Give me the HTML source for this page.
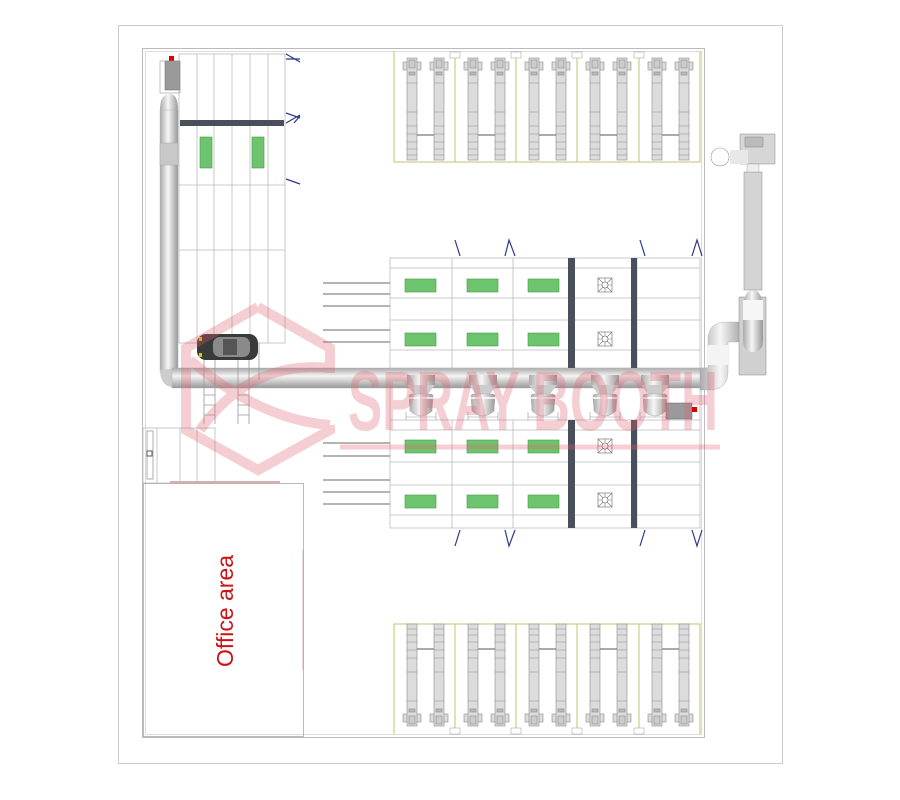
<!DOCTYPE html>
<html><head><meta charset="utf-8"><style>
html,body{margin:0;padding:0;background:#fff;}
svg{display:block;}
</style></head><body>
<svg width="900" height="800" viewBox="0 0 900 800" xmlns="http://www.w3.org/2000/svg">
<defs>
<linearGradient id="pipeH" x1="0" y1="0" x2="0" y2="1">
<stop offset="0" stop-color="#aaa"/><stop offset="0.4" stop-color="#f4f4f4"/><stop offset="1" stop-color="#999"/></linearGradient>
<linearGradient id="pipeV" x1="0" y1="0" x2="1" y2="0">
<stop offset="0" stop-color="#aaa"/><stop offset="0.45" stop-color="#f6f6f6"/><stop offset="1" stop-color="#999"/></linearGradient>
<g id="lift">
 <g fill="#dcdcdc" stroke="#8a8a8a" stroke-width="0.6">
  <rect x="9" y="12" width="18" height="8"/>
  <rect x="13" y="8" width="10" height="102"/>
  <rect x="15" y="10" width="6" height="8" fill="#ccc"/>
  <rect x="15" y="22" width="6" height="3" fill="#bbb"/>
  <rect x="36" y="12" width="18" height="8"/>
  <rect x="40" y="8" width="10" height="102"/>
  <rect x="42" y="10" width="6" height="8" fill="#ccc"/>
  <rect x="42" y="22" width="6" height="3" fill="#bbb"/>
  <path d="M13 33H23M13 62H23M13 76H23M13 84H23M13 92H23M13 99H23M13 105H23M40 33H50M40 62H50M40 76H50M40 84H50M40 92H50M40 99H50M40 105H50" fill="none"/>
  <path d="M23 85H40" stroke="#777" stroke-width="1.2"/>
 </g>
</g>
<g id="fan"><rect x="-7" y="-7" width="14" height="14" fill="#fff" stroke="#666" stroke-width="0.6"/><path d="M-7 -7L7 7M7 -7L-7 7M0 -7V7M-7 0H7" stroke="#777" stroke-width="0.6"/><circle r="3" fill="#fff" stroke="#666" stroke-width="0.6"/></g>
<g id="cyc">
 <rect x="-14" y="0" width="28" height="10" fill="url(#pipeV)"/>
 <path d="M-14 10 L-7 19 L7 19 L14 10Z" fill="#ccc"/>
 <path d="M-12 21 Q-12 19 -9 19 H9 Q12 19 12 21 L11 36 Q0 46 -11 36Z" fill="url(#pipeV)" stroke="#aaa" stroke-width="0.5"/>
 <path d="M-12 23H12" stroke="#fff" stroke-width="1.5"/>
 <path d="M-15 42H15M-15 37V45M15 37V45" stroke="#999" stroke-width="0.6" fill="none"/>
</g>
</defs>

<rect x="118.5" y="25.5" width="664" height="738" fill="#fff" stroke="#ccc"/>
<rect x="142.5" y="48.5" width="562" height="689" fill="none" stroke="#bbb"/>
<rect x="145.5" y="51.5" width="556" height="683" fill="none" stroke="#ddd"/>

<g stroke="#bbb" stroke-width="0.8" fill="none">
<rect x="179" y="54" width="106" height="289" fill="#fff"/>
<path d="M197 54V343M214 54V343M232 54V343M250 54V343M268 54V343M179 185H285M179 250H285"/>
</g>
<rect x="180" y="120" width="104" height="6" fill="#4a4f5c"/>
<rect x="200" y="137" width="12" height="31" fill="#6cc46c" stroke="#4a9a4a" stroke-width="0.6"/>
<rect x="252" y="137" width="12" height="31" fill="#6cc46c" stroke="#4a9a4a" stroke-width="0.6"/>
<g stroke="#2b3a8c" stroke-width="1.2" fill="none">
<path d="M286 54L300 62M286 59L300 59"/>
<path d="M286 113L300 118M286 123L300 115M294 123L300 116"/>
<path d="M286 179L300 184"/>
</g>

<rect x="165" y="61" width="15" height="29" fill="#9a9a9a" stroke="#666" stroke-width="0.5"/>
<rect x="169" y="56" width="5" height="5" fill="#d00"/>
<rect x="160" y="61" width="20" height="32" fill="none" stroke="#999" stroke-width="0.6"/>
<path d="M160 110 Q160 94 170 94 Q178 94 178 110Z" fill="url(#pipeV)"/>
<rect x="160" y="110" width="18" height="262" fill="url(#pipeV)" stroke="#aaa" stroke-width="0.4"/>
<rect x="160" y="143" width="18" height="22" fill="#c8c8c8" stroke="#999" stroke-width="0.4"/>
<path d="M160 370 Q160 388 178 388 L178 368 Z" fill="#ccc"/>
<rect x="172" y="368" width="548" height="20" fill="url(#pipeH)" stroke="#aaa" stroke-width="0.4"/>

<g stroke="#999" stroke-width="0.8" fill="none">
<path d="M204 343V424M215 343V424M238 343V424M249 343V424M259 343V380"/>
<path d="M204 395H215M204 405H215M204 415H215M238 395H249M238 405H249M238 415H249"/>
</g>
<rect x="197" y="334" width="61" height="26" rx="9" fill="#3a3a3a"/>
<rect x="213" y="337" width="37" height="20" rx="7" fill="#8a8a8a"/>
<rect x="223" y="339" width="14" height="16" fill="#555"/>
<rect x="199" y="337" width="3" height="4" fill="#e6c200"/><rect x="199" y="353" width="3" height="4" fill="#e6c200"/>

<g stroke="#c6c26a" stroke-width="1" fill="none">
<path d="M394 51V162H700V51M455 51V162M516 51V162M577 51V162M639 51V162"/>
</g>
<g stroke="#999" stroke-width="0.5" fill="#fff">
<rect x="450" y="52" width="10" height="6"/><rect x="511" y="52" width="10" height="6"/><rect x="572" y="52" width="10" height="6"/><rect x="634" y="52" width="10" height="6"/>
</g>
<use href="#lift" x="394" y="50"/><use href="#lift" x="455" y="50"/><use href="#lift" x="516" y="50"/><use href="#lift" x="577" y="50"/><use href="#lift" x="639" y="50"/>

<g stroke="#c6c26a" stroke-width="1" fill="none">
<path d="M394 734V624H700V734M455 624V734M516 624V734M577 624V734M639 624V734"/>
</g>
<g stroke="#999" stroke-width="0.5" fill="#fff">
<rect x="450" y="728" width="10" height="6"/><rect x="511" y="728" width="10" height="6"/><rect x="572" y="728" width="10" height="6"/><rect x="634" y="728" width="10" height="6"/>
</g>
<g transform="translate(0,784) scale(1,-1)">
<use href="#lift" x="394" y="50"/><use href="#lift" x="455" y="50"/><use href="#lift" x="516" y="50"/><use href="#lift" x="577" y="50"/><use href="#lift" x="639" y="50"/>
</g>

<g stroke="#bbb" stroke-width="0.8" fill="none">
<rect x="390" y="258" width="310" height="110" fill="#fff"/>
<rect x="390" y="420" width="310" height="108" fill="#fff"/>
<path d="M452 258V368M513 258V368M574 258V368M637 258V368M452 420V528M513 420V528M574 420V528M637 420V528"/>
<path d="M390 268H700M390 298H700M390 320H700M390 350H700M390 430H700M390 462H700M390 485H700M390 515H700"/>
<path d="M390 388V420M700 388V420"/>
</g>
<rect x="568" y="258" width="7" height="110" fill="#4a4f5c"/><rect x="631" y="258" width="6" height="110" fill="#4a4f5c"/>
<rect x="568" y="420" width="7" height="108" fill="#4a4f5c"/><rect x="631" y="420" width="6" height="108" fill="#4a4f5c"/>
<g fill="#6cc46c" stroke="#4a9a4a" stroke-width="0.6">
<rect x="405" y="279" width="31" height="13"/><rect x="467" y="279" width="31" height="13"/><rect x="528" y="279" width="31" height="13"/>
<rect x="405" y="333" width="31" height="13"/><rect x="467" y="333" width="31" height="13"/><rect x="528" y="333" width="31" height="13"/>
<rect x="405" y="440" width="31" height="13"/><rect x="467" y="440" width="31" height="13"/><rect x="528" y="440" width="31" height="13"/>
<rect x="405" y="495" width="31" height="13"/><rect x="467" y="495" width="31" height="13"/><rect x="528" y="495" width="31" height="13"/>
</g>
<use href="#fan" x="605" y="285"/><use href="#fan" x="605" y="339"/><use href="#fan" x="605" y="446"/><use href="#fan" x="605" y="500"/>
<g stroke="#888" stroke-width="1.2">
<path d="M323 283H390M323 294H390M323 306H390M323 330H390M323 342H390M323 443H390M323 456H390M323 480H390M323 492H390M323 504H390"/>
</g>
<g stroke="#2b3a8c" stroke-width="1.2" fill="none">
<path d="M455 240L460 256M505 256L509 240L515 256M640 240L645 256M692 256L697 240L702 256"/>
<path d="M455 546L460 530M505 530L509 546L515 530M640 546L645 530M692 530L697 546L702 530"/>
</g>

<use href="#cyc" x="421" y="375"/><use href="#cyc" x="483" y="375"/><use href="#cyc" x="543" y="375"/><use href="#cyc" x="605" y="375"/><use href="#cyc" x="655" y="375"/>
<rect x="666" y="403" width="26" height="16" fill="#9a9a9a" stroke="#666" stroke-width="0.5"/>
<rect x="692" y="407" width="5" height="5" fill="#d00"/>

<path d="M708 340 Q708 322 726 322 L745 322 L745 342 L728 342 Q728 342 728 345 L728 372 Q728 390 708 390 L700 390 L700 368 L708 368 Z" fill="url(#pipeV)" stroke="#aaa" stroke-width="0.4"/>
<rect x="708" y="345" width="20" height="20" fill="#f4f4f4"/>
<rect x="739" y="297" width="27" height="78" fill="#d0d0d0" stroke="#888" stroke-width="0.5"/>
<path d="M743 312 Q743 290 753 290 Q763 290 763 312 V340 Q763 352 753 352 Q743 352 743 340Z" fill="url(#pipeV)"/>
<rect x="743" y="300" width="20" height="20" fill="#f6f6f6"/>
<rect x="744" y="172" width="18" height="118" fill="#d4d4d4" stroke="#888" stroke-width="0.5"/>
<rect x="740" y="134" width="35" height="30" fill="#d6d6d6" stroke="#888" stroke-width="0.5"/>
<rect x="745" y="137" width="18" height="10" fill="#bbb" stroke="#777" stroke-width="0.4"/>
<rect x="730" y="150" width="18" height="14" fill="#e8e8e8"/>
<circle cx="720" cy="157" r="9" fill="#fff" stroke="#999" stroke-width="0.6"/>
<rect x="747" y="164" width="12" height="8" fill="#eee" stroke="#999" stroke-width="0.4"/>

<g stroke="#bbb" stroke-width="0.8" fill="none">
<rect x="143" y="428" width="72" height="55"/>
<path d="M157 428V483M180 428V483M197 428V483"/>
<rect x="147" y="431" width="6" height="48" stroke="#999"/>
<rect x="143.5" y="483.5" width="160" height="253" stroke="#aaa"/>
<path d="M303 550V670" stroke="#c9a0a0"/>
</g>
<path d="M170 482H280" stroke="#d4b0b0" stroke-width="2"/>
<rect x="147" y="451" width="5" height="5" fill="#fff" stroke="#333" stroke-width="0.8"/>
<text transform="translate(233,611) rotate(-90)" text-anchor="middle" font-family="Liberation Sans, sans-serif" font-size="23" fill="#d01010">Office area</text>

<g opacity="0.3" fill="none" stroke="#e06070" stroke-width="10" stroke-linejoin="miter">
<path d="M258 307 L330 348 L330 373 M330 425 L330 430 L258 470 L186 430 L186 348 L258 307"/>
<path d="M200 430 Q250 360 330 368"/>
<path d="M190 360 Q260 420 330 425"/>
<path d="M340 447 H720" stroke-width="5"/>
</g>
<text x="348" y="430" textLength="370" lengthAdjust="spacingAndGlyphs" font-family="Liberation Sans, sans-serif" font-weight="bold" font-size="84" fill="#e06070" opacity="0.3">SPRAY BOOTH</text>
</svg>
</body></html>
